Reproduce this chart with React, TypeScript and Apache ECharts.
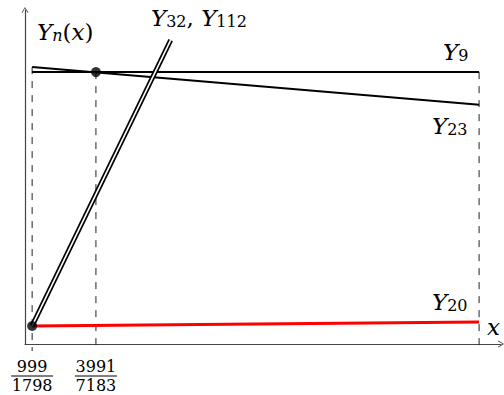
import React, { useEffect, useRef } from "react";
import * as echarts from "echarts";

// Schematic abscissas of the two marked points and of the right end of the curves
const xMarks = [1.5, 14.9];
const xMarkNum = ["999", "3991"];
const xMarkDen = ["1798", "7183"];
const xRight = 95.4;

// Curves Y_n(x), each drawn as a straight segment [x, y]
const seriesY9 = [[1.5, 81.4], [95.4, 81.4]];
const seriesY23 = [[1.5, 82.9], [95.4, 71.6]];
const seriesY32 = [[1.5, 5.4], [30.6, 91.0]];
const seriesY20 = [[1.5, 5.4], [95.4, 6.6]];
const markedPoints = [[1.5, 5.4], [14.9, 81.4]];

// Dashed guides: abscissa and upper end; they run down just past the x axis
const guideX = [xMarks[0], xMarks[1], xRight];
const guideTop = [82.9, 81.4, 81.4];
const guideBottom = -2.1;

const SERIF = "DejaVu Serif";
const BIG = 23;
const SMALL = 16;
const DROP = 5.5; // extra line space that pushes subscripts below the main baseline

const rich = {
  Y: { fontFamily: SERIF, fontStyle: "italic", fontSize: BIG, lineHeight: BIG, verticalAlign: "top", padding: [0, 0, DROP, 0], color: "#000" },
  i: { fontFamily: SERIF, fontStyle: "italic", fontSize: BIG, lineHeight: BIG, verticalAlign: "top", padding: [0, 0, DROP, 0], color: "#000" },
  p: { fontFamily: SERIF, fontStyle: "normal", fontSize: BIG, lineHeight: BIG, verticalAlign: "top", padding: [0, 0, DROP, 0], color: "#000" },
  s: { fontFamily: SERIF, fontStyle: "normal", fontSize: SMALL, lineHeight: SMALL, verticalAlign: "bottom", color: "#000" },
  si: { fontFamily: SERIF, fontStyle: "italic", fontSize: SMALL, lineHeight: SMALL, verticalAlign: "bottom", color: "#000" },
};

const label = (text: string, x: number, y: number) => ({
  type: "text",
  x,
  y,
  silent: true,
  style: { text, rich, fontFamily: SERIF, fontSize: BIG, fill: "#000", verticalAlign: "top", align: "left" },
});

const arrow = "path://M5,0 L10,8 L9,8.8 L5,2 L1,8.8 L0,8 Z";

export default function App() {
  const ref = useRef<HTMLDivElement>(null);

  useEffect(() => {
    if (!ref.current) return;
    const chart = echarts.init(ref.current, undefined, { renderer: "svg" });

    const segment = (name: string, data: number[][], color: string, width: number, z = 2) => ({
      name,
      type: "line",
      data,
      z,
      symbol: "none",
      clip: false,
      lineStyle: { color, width, cap: "butt" },
    });

    const guides = guideX.map((gx, k) => ({
      name: "guide" + k,
      type: "line",
      data: [[gx, guideTop[k]], [gx, guideBottom]],
      z: 1,
      symbol: "none",
      clip: false,
      lineStyle: { color: "#222", width: 1, type: [7, 7] },
    }));

    const axisCommon = {
      type: "value",
      min: 0,
      max: 100,
      axisLine: {
        show: true,
        symbol: ["none", arrow],
        symbolSize: [9, 6],
        symbolOffset: [0, 0],
        lineStyle: { color: "#444", width: 1.2 },
      },
      axisTick: { show: false },
      axisLabel: { show: false },
      splitLine: { show: false },
    };

    chart.setOption({
      animation: false,
      backgroundColor: "#fff",
      textStyle: { fontFamily: SERIF },
      grid: { left: 25, right: 3, top: 10, bottom: 51 },
      xAxis: { ...axisCommon },
      yAxis: { ...axisCommon },
      series: [
        ...guides,
        segment("Y9", seriesY9, "#000", 2),
        segment("Y23", seriesY23, "#000", 2),
        segment("Y20", seriesY20, "#ff0000", 3),
        segment("Y32", seriesY32, "#000", 5, 3),
        segment("Y112", seriesY32, "#fff", 1.6, 4),
        {
          name: "points",
          type: "scatter",
          data: markedPoints,
          symbol: "circle",
          symbolSize: 10,
          z: 5,
          itemStyle: { color: "#000" },
        },
        {
          name: "ticks",
          type: "custom",
          data: xMarks.map((v, i) => [v, i]),
          z: 5,
          renderItem: (_params: any, api: any) => {
            const i = api.value(1) as number;
            const p = api.coord([api.value(0), 0]);
            const txt = { fontFamily: SERIF, fontSize: 16, align: "center", verticalAlign: "middle", fill: "#000" };
            return {
              type: "group",
              children: [
                { type: "text", style: { ...txt, text: xMarkNum[i], x: p[0], y: p[1] + 22 } },
                {
                  type: "line",
                  shape: { x1: p[0] - 21, y1: p[1] + 32, x2: p[0] + 21, y2: p[1] + 32 },
                  style: { stroke: "#000", lineWidth: 1 },
                },
                { type: "text", style: { ...txt, text: xMarkDen[i], x: p[0], y: p[1] + 41.5 } },
              ],
            };
          },
        },
      ],
      graphic: [
        label("{Y|Y}{si|n}{p|(}{i|x}{p|)}", 37, 20),
        label("{Y|Y}{s|32}{p|, }{Y|Y}{s|112}", 151, 6),
        label("{Y|Y}{s|9}", 443, 40),
        label("{Y|Y}{s|23}", 432, 114),
        label("{Y|Y}{s|20}", 432, 290),
        label("{i|x}", 487, 315),
      ],
    });

    return () => chart.dispose();
  }, []);

  return (
    <div
      ref={ref}
      style={{ position: "fixed", left: 0, top: 0, width: 504, height: 395, background: "#fff" }}
    />
  );
}
